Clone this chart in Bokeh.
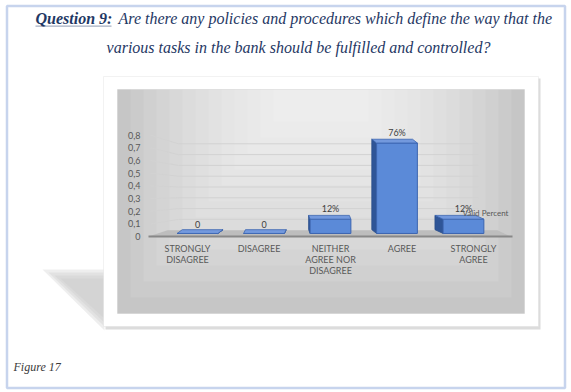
from bokeh.plotting import figure
from bokeh.models import Range1d, Label, BoxAnnotation, PolyAnnotation, ColumnDataSource
from bokeh.core.properties import value
from bokeh.embed import file_html
from bokeh.resources import INLINE

# ---------------- data ----------------
categories = ["STRONGLY\nDISAGREE", "DISAGREE", "NEITHER\nAGREE NOR\nDISAGREE",
              "AGREE", "STRONGLY\nAGREE"]
valid_percent = [0.0, 0.0, 0.12, 0.76, 0.12]
y_ticks = [0, 0.1, 0.2, 0.3, 0.4, 0.5, 0.6, 0.7, 0.8]
y_tick_labels = ["0", "0,1", "0,2", "0,3", "0,4", "0,5", "0,6", "0,7", "0,8"]
series_name = "Valid Percent"
title_lead = "Question 9:"
title_line1 = "Are there any policies and procedures which define the way that the"
title_line2 = "various tasks in the bank should be fulfilled and controlled?"
caption = "Figure 17"

# ---------------- layout (pixels) ----------------
W, H = 571, 392
X0, Y0 = 187.0, 236.0        # pixel of first category centre / value 0
PX, PY = 71.5, 126.6         # pixels per category / per unit of value

x_range = Range1d(0.5 - X0 / PX, 0.5 + (W - X0) / PX)
y_range = Range1d(-(H - Y0) / PY, Y0 / PY)


def sx(X):
    return X


def sy(Y):
    return H - Y


def dx(X):
    return 0.5 + (X - X0) / PX


def dy(Y):
    return (Y0 - Y) / PY


p = figure(width=W, height=H, output_backend="svg", toolbar_location=None,
           x_range=x_range, y_range=y_range, x_axis_type=None, y_axis_type=None,
           min_border=0)
p.background_fill_color = "white"
p.border_fill_color = "white"
p.outline_line_color = None
p.grid.visible = False


def box(l, r, t, b, **kw):
    return BoxAnnotation(left=sx(l), right=sx(r), top=sy(t), bottom=sy(b),
                         left_units="screen", right_units="screen", top_units="screen",
                         bottom_units="screen", **kw)


# ---------------- decoration ----------------
for k in range(4):
    p.add_layout(PolyAnnotation(xs=[sx(42 + 6 * k), sx(104), sx(104)],
                                ys=[sy(269 + 3 * k), sy(269 + 3 * k), sy(330 - 4 * k)],
                                xs_units="screen", ys_units="screen", fill_color="#c8c8c8",
                                fill_alpha=0.3, line_color=None, level="underlay"))
p.add_layout(box(105, 540, 78, 329, fill_color="#dcdcdc", fill_alpha=1, line_color=None,
                 level="underlay"))
p.add_layout(box(103, 538, 76, 326, fill_color="white", fill_alpha=1,
                 line_color="#d3d3d3", line_width=1, level="underlay"))
p.add_layout(box(117, 524, 89, 313, fill_color="#c6c6c6", fill_alpha=1,
                 line_color="#bdbdbd", line_width=1, level="underlay"))
for k in range(1, 13):
    p.add_layout(box(117 + k * 13, 524 - k * 13, 89, 313 - k * 16, fill_color="white",
                     fill_alpha=0.1, line_color=None, level="underlay"))

p.add_layout(box(6.5, 564.5, 5.5, 387.5, fill_color=None, line_color="#4472c4",
                 line_width=2.5))

title_color = "#1f3864"
title_size = "16px"
p.add_layout(Label(x=sx(35), y=sy(18), x_units="screen", y_units="screen", text=title_lead,
                   text_font="Liberation Serif", text_font_style="bold italic",
                   text_font_size=title_size, text_color=title_color, text_baseline="middle",
                   text_align="left"))
p.add_layout(box(35, 111, 25, 26.2, fill_color=title_color, line_color=None))
p.add_layout(Label(x=sx(118), y=sy(18), x_units="screen", y_units="screen", text=title_line1,
                   text_font="Liberation Serif", text_font_style="italic",
                   text_font_size=title_size, text_color=title_color, text_baseline="middle",
                   text_align="left"))
p.add_layout(Label(x=sx(298), y=sy(47), x_units="screen", y_units="screen", text=title_line2,
                   text_font="Liberation Serif", text_font_style="italic",
                   text_font_size=title_size, text_color=title_color, text_baseline="middle",
                   text_align="center"))
p.add_layout(Label(x=sx(13), y=sy(366), x_units="screen", y_units="screen", text=caption,
                   text_font="Liberation Serif", text_font_style="italic",
                   text_font_size="12px", text_color="#3a3a3a", text_baseline="middle",
                   text_align="left"))

# ---------------- 3D chart geometry ----------------
n = len(categories)
centers = [i + 0.5 for i in range(n)]
vanish = 2.5
bx = [vanish + (c - vanish) * 0.93 for c in centers]
bw = 0.57
base = 0.024
scale = 0.94
e = 0.03
tops = [base + scale * v for v in valid_percent]
depth = [0.05 * (x - 2.08) for x in bx]

# floor
p.patch(x=[dx(148), dx(510), dx(497), dx(167)], y=[0, 0, dy(229.7), dy(229.7)],
        fill_color="#bdbdbd", line_color=None)
p.segment(x0=[dx(148)], y0=[0], x1=[dx(512)], y1=[0], line_color="#888888", line_width=2)

# gridlines on the back wall
gx, gy = [], []
for v in y_ticks[1:]:
    b = dy(229.7) + 0.853 * v
    gx.append([dx(150), dx(178), dx(478)])
    gy.append([v, b, b])
p.multi_line(xs=gx, ys=gy, line_color="#d2d2d2", line_width=1)

# side faces
side_x, side_y = [], []
for x, t, d in zip(bx, tops, depth):
    edge = x - bw / 2 if d > 0 else x + bw / 2
    side_x.append([edge, edge, edge - d, edge - d])
    side_y.append([base, t, t + e, base + e])
p.patches(xs=side_x, ys=side_y, fill_color="#2f5597", line_color="#2b4f8c", line_width=0.8)

# front faces
p.vbar(x=bx, width=bw, bottom=base, top=tops, fill_color="#5b8ad8",
       line_color="#3b64b0", line_width=1)

# top faces
top_x, top_y = [], []
for x, t, d in zip(bx, tops, depth):
    top_x.append([x - bw / 2, x + bw / 2, x + bw / 2 - d, x - bw / 2 - d])
    top_y.append([t, t, t + e, t + e])
p.patches(xs=top_x, ys=top_y, fill_color="#7399dd", line_color="#3b64b0", line_width=0.8)

# data labels
lab = [("%d%%" % round(v * 100)) if v else "0" for v in valid_percent]
src = ColumnDataSource(dict(x=bx, y=[t + e + 0.012 for t in tops], t=lab))
p.text(x="x", y="y", text="t", source=src, text_align="center", text_baseline="bottom",
       text_font_size="9px", text_font=value("Lato"), text_color="#404040")

p.add_layout(Label(x=dx(462), y=dy(212), text=series_name, text_font="Lato",
                   text_font_size="8px", text_color="#595959", text_baseline="middle",
                   text_align="left"))

# ---------------- axis labels ----------------
ysrc = ColumnDataSource(dict(x=[dx(140)] * len(y_ticks), y=y_ticks, t=y_tick_labels))
p.text(x="x", y="y", text="t", source=ysrc, text_align="right", text_baseline="middle",
       text_font_size="9px", text_font=value("Lato"), text_color="#595959")

xsrc = ColumnDataSource(dict(x=centers, y=[dy(242)] * n, t=categories))
p.text(x="x", y="y", text="t", source=xsrc, text_align="center", text_baseline="top",
       text_font_size="9px", text_font=value("Lato"), text_color="#595959",
       text_line_height=1.0)

open("out.html", "w").write(file_html(p, INLINE))
